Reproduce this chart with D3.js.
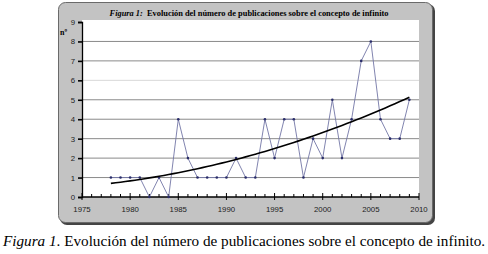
<!DOCTYPE html>
<html>
<head>
<meta charset="utf-8">
<script src="https://cdn.jsdelivr.net/npm/d3@7"></script>
<style>
  body { margin: 0; background: #fff; }
  svg { display: block; }
  .serif { font-family: "Liberation Serif", "Times New Roman", Times, serif; }
  .sans { font-family: "Liberation Sans", Arial, sans-serif; }
</style>
</head>
<body>
<script>
// data
var years = [1978, 1979, 1980, 1981, 1982, 1983, 1984, 1985, 1986, 1987, 1988,
  1989, 1990, 1991, 1992, 1993, 1994, 1995, 1996, 1997, 1998, 1999, 2000,
  2001, 2002, 2003, 2004, 2005, 2006, 2007, 2008, 2009];
var counts = [1, 1, 1, 1, 0, 1, 0, 4, 2, 1, 1,
  1, 1, 2, 1, 1, 4, 2, 4, 4, 1, 3, 2,
  5, 2, 4, 7, 8, 4, 3, 3, 5];
var yTicks = [0, 1, 2, 3, 4, 5, 6, 7, 8, 9];
var xTicks = [1975, 1980, 1985, 1990, 1995, 2000, 2005, 2010];

var width = 488, height = 254;
var svg = d3.select("body").append("svg")
  .attr("width", width)
  .attr("height", height);

// gray frame with shadow
svg.append("rect")
  .attr("x", 60).attr("y", 4)
  .attr("width", 375).attr("height", 221)
  .attr("rx", 7)
  .attr("fill", "#444");
svg.append("rect")
  .attr("x", 58.5).attr("y", 2.5)
  .attr("width", 374).attr("height", 220)
  .attr("rx", 7)
  .attr("fill", "#c3c3c3")
  .attr("stroke", "#6a6a6a");

// title
var title = svg.append("text")
  .attr("class", "serif")
  .attr("x", 249).attr("y", 16)
  .attr("text-anchor", "middle")
  .style("font-size", "8.4px")
  .style("font-weight", "bold");
title.append("tspan").style("font-style", "italic").text("Figura 1:");
title.append("tspan").text("\u00a0 Evolución del número de publicaciones sobre el concepto de infinito");

// scales
var x = d3.scaleLinear().domain([1975, 2010]).range([82, 419]);
var y = d3.scaleLinear().domain([0, 9]).range([197, 22]);

// plot area
svg.append("rect")
  .attr("x", x(1975)).attr("y", 20)
  .attr("width", x(2010) - x(1975)).attr("height", y(0) - 20)
  .attr("fill", "#fff");

// grid
svg.append("g")
  .selectAll("line")
  .data(yTicks.filter(d => d > 0 && d < 9))
  .join("line")
  .attr("x1", x(1975)).attr("x2", x(2010))
  .attr("y1", d => y(d)).attr("y2", d => y(d))
  .attr("stroke", d => d == 6 ? "#d8d8d8" : "#8a8a8a")
  .attr("stroke-width", 1);

// y axis
var yAxis = svg.append("g")
  .attr("transform", "translate(" + x(1975) + ",0)")
  .call(d3.axisLeft(y).tickValues(yTicks).tickSize(4).tickPadding(3));
yAxis.attr("font-family", null);
yAxis.select(".domain").attr("stroke", "#000").attr("stroke-width", 1.3);
yAxis.selectAll(".tick line").attr("stroke", "#000").attr("stroke-width", 1.6);
yAxis.selectAll("text")
  .attr("class", "sans")
  .style("font-size", "7.8px")
  .attr("fill", "#222");

svg.append("text")
  .attr("class", "serif")
  .attr("x", 60).attr("y", 35)
  .style("font-size", "8px")
  .style("font-weight", "bold")
  .text("nº");

// x axis: minor year ticks up, major ticks down
var xAxis = svg.append("g")
  .attr("transform", "translate(0," + y(0) + ")");
xAxis.append("line")
  .attr("x1", x(1975)).attr("x2", x(2010))
  .attr("stroke", "#000").attr("stroke-width", 1.3);
xAxis.selectAll(".minor")
  .data(d3.range(1975, 2011))
  .join("line")
  .attr("class", "minor")
  .attr("x1", d => x(d)).attr("x2", d => x(d))
  .attr("y1", d => d % 5 == 0 ? 3 : 0).attr("y2", d => d % 5 == 0 ? -4 : -3)
  .attr("stroke", "#000").attr("stroke-width", 1);
xAxis.selectAll("text")
  .data(xTicks)
  .join("text")
  .attr("class", "sans")
  .attr("x", d => x(d)).attr("y", 15)
  .attr("text-anchor", "middle")
  .style("font-size", "7.8px")
  .attr("fill", "#222")
  .text(d => d);

// series
var pts = years.map((d, i) => [d, counts[i]]);
svg.append("path")
  .datum(pts)
  .attr("fill", "none")
  .attr("stroke", "#7376a6")
  .attr("stroke-width", 0.9)
  .attr("d", d3.line().x(d => x(d[0])).y(d => y(d[1])));
svg.append("g")
  .selectAll("circle")
  .data(pts)
  .join("circle")
  .attr("cx", d => x(d[0])).attr("cy", d => y(d[1]))
  .attr("r", 1.3)
  .attr("fill", "#2a2d6a");

// trend line: least squares quadratic fit of the series
function quadFit(xs, ys) {
  var s = [0, 0, 0, 0, 0], t = [0, 0, 0];
  xs.forEach(function (xv, i) {
    for (var k = 0; k < 5; k++) s[k] += Math.pow(xv, k);
    for (var k = 0; k < 3; k++) t[k] += ys[i] * Math.pow(xv, k);
  });
  var A = [[s[0], s[1], s[2], t[0]], [s[1], s[2], s[3], t[1]], [s[2], s[3], s[4], t[2]]];
  for (var i = 0; i < 3; i++) {
    for (var j = i + 1; j < 3; j++) {
      var f = A[j][i] / A[i][i];
      for (var k = i; k < 4; k++) A[j][k] -= f * A[i][k];
    }
  }
  var c = [0, 0, 0];
  for (var i = 2; i >= 0; i--) {
    var v = A[i][3];
    for (var k = i + 1; k < 3; k++) v -= A[i][k] * c[k];
    c[i] = v / A[i][i];
  }
  return c;
}
var tt = years.map(d => d - years[0]);
var coef = quadFit(tt, counts);
var trend = d3.range(0, tt[tt.length - 1] + 0.01, 0.5)
  .map(t => [years[0] + t, coef[0] + coef[1] * t + coef[2] * t * t]);
svg.append("path")
  .datum(trend)
  .attr("fill", "none")
  .attr("stroke", "#000")
  .attr("stroke-width", 1.6)
  .attr("d", d3.line().x(d => x(d[0])).y(d => y(d[1])));

// caption
var cap = svg.append("text")
  .attr("class", "serif")
  .attr("x", 3).attr("y", 246)
  .style("font-size", "15.2px");
cap.append("tspan").style("font-style", "italic").text("Figura 1");
cap.append("tspan").text(". Evolución del número de publicaciones sobre el concepto de infinito.");
</script>
</body>
</html>
